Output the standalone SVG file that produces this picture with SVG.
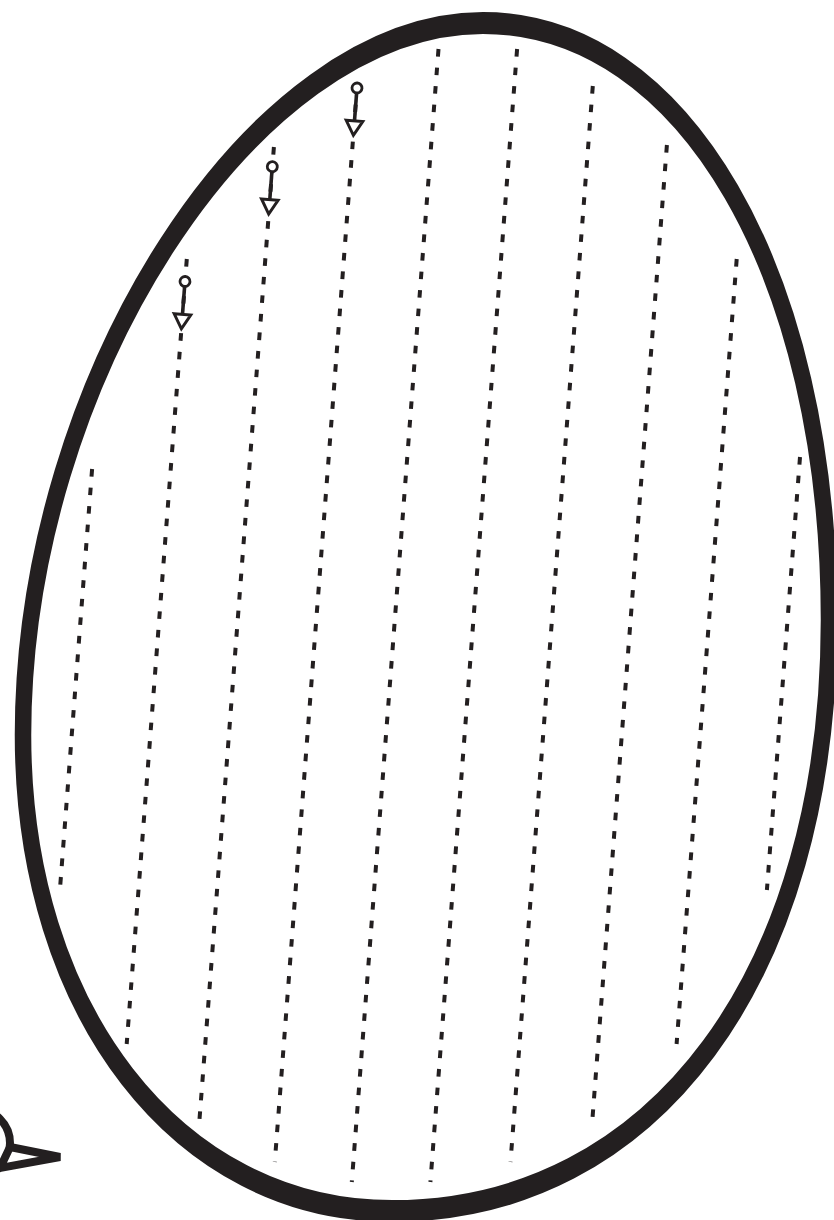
<svg xmlns="http://www.w3.org/2000/svg" width="834" height="1220" viewBox="0 0 834 1220">
<style>
.ink{stroke:#231f20;fill:none}
.dash{stroke:#231f20;stroke-width:4;stroke-dasharray:7.6 11;fill:none}
.arrow .stem{stroke:#231f20;stroke-width:3.6}
.arrow circle{fill:#fff;stroke:#231f20;stroke-width:2.8}
.arrow .head{fill:#fff;stroke:#231f20;stroke-width:3}
</style>
<rect width="834" height="1220" fill="#fff"/>
<g id="egg">
<path class="ink" stroke-width="16.5" transform="scale(1,1.32)" d="M483,17.42 C683.7,17.42 829,207.3 829,469.7 C829,738.3 654.2,917.4 392,917.4 C178,917.4 23,765.9 23,556.8 C23,287.1 253,17.42 483,17.42 Z"/>
</g>
<g id="flow-lines">
<line class="dash" x1="92.1" y1="469" x2="59.9" y2="890"/>
<line class="dash" x1="186.8" y1="259" x2="126.7" y2="1044"/>
<line class="dash" x1="273.9" y1="147" x2="199.3" y2="1122"/>
<line class="dash" x1="357.1" y1="86" x2="274.8" y2="1162"/>
<line class="dash" x1="438.5" y1="49" x2="351.8" y2="1182"/>
<line class="dash" x1="517.1" y1="49" x2="430.4" y2="1182"/>
<line class="dash" x1="592.8" y1="86" x2="510.5" y2="1162"/>
<line class="dash" x1="666.9" y1="145" x2="592.2" y2="1122"/>
<line class="dash" x1="736.7" y1="259" x2="676.6" y2="1044"/>
<line class="dash" x1="800" y1="457" x2="766.9" y2="890"/>
</g>
<g id="arrow-1" class="arrow" transform="translate(357,88) rotate(4.37)">
<line class="stem" x1="0" y1="5" x2="0" y2="33"/>
<circle r="5"/>
<path class="head" d="M-8.3,33 L8.3,33 L0,47.5 Z"/>
</g>
<g id="arrow-2" class="arrow" transform="translate(272.3,166.7) rotate(4.37)">
<line class="stem" x1="0" y1="5" x2="0" y2="33"/>
<circle r="5"/>
<path class="head" d="M-8.3,33 L8.3,33 L0,47.5 Z"/>
</g>
<g id="arrow-3" class="arrow" transform="translate(185,281.5) rotate(4.37)">
<line class="stem" x1="0" y1="5" x2="0" y2="33"/>
<circle r="5"/>
<path class="head" d="M-8.3,33 L8.3,33 L0,47.5 Z"/>
</g>
<g id="viewer">
<circle class="ink" cx="-24" cy="1143" r="34" stroke-width="8"/>
<path d="M10,1147 L60,1157 L0,1168 Z" fill="#fff" stroke="#231f20" stroke-width="8"/>
</g>
</svg>
